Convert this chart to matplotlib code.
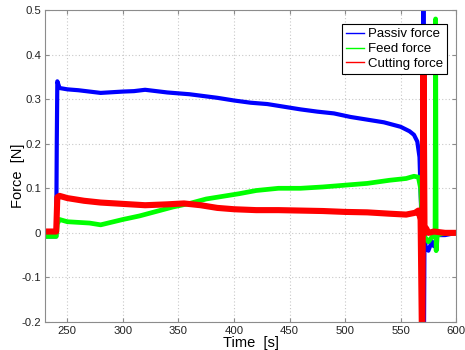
import matplotlib
matplotlib.use("Agg")
import matplotlib.pyplot as plt

plt.rcParams['font.family'] = ['Liberation Sans', 'DejaVu Sans']

# Passive force (blue)
t_passiv = [230, 240, 240.5, 241, 243, 250, 260, 280, 300, 310, 320, 340, 360, 385, 400,
            415, 430, 445, 460, 475, 490, 505, 520, 535, 550, 558, 562, 565, 567, 568.5,
            570, 570.5, 571, 571.5, 572.5, 575, 578, 580, 583, 590, 600]
f_passiv = [-0.008, -0.008, 0.20, 0.34, 0.325, 0.322, 0.32, 0.314, 0.317, 0.318, 0.321,
            0.315, 0.311, 0.303, 0.297, 0.292, 0.289, 0.283, 0.277, 0.272, 0.268, 0.26,
            0.254, 0.248, 0.238, 0.228, 0.22, 0.205, 0.17, 0.05, -0.06, 0.6, -0.25, 0.0,
            -0.03, -0.04, -0.02, -0.03, -0.005, -0.005, 0.0]

# Feed force (green)
t_feed = [230, 240, 241, 243, 250, 270, 280, 300, 315, 330, 345, 360, 375, 390, 405, 420,
          440, 460, 480, 500, 520, 540, 555, 562, 566, 568, 570, 572, 575, 578, 581,
          581.5, 582, 583, 590, 600]
f_feed = [-0.008, -0.008, 0.02, 0.03, 0.025, 0.022, 0.018, 0.03, 0.038, 0.048, 0.058,
          0.066, 0.076, 0.082, 0.088, 0.095, 0.1, 0.1, 0.103, 0.107, 0.111, 0.118, 0.122,
          0.127, 0.125, 0.10, 0.0, -0.01, -0.02, -0.01, 0.0, 0.48, -0.04, -0.005, 0.0, 0.0]

# Cutting force (red)
t_cut = [230, 240, 241, 243, 250, 265, 280, 300, 320, 340, 355, 370, 385, 400, 420, 440,
         460, 480, 500, 520, 540, 555, 563, 566, 568, 569.5, 570.5, 571.5, 573, 575, 580,
         590, 600]
f_cut = [0.003, 0.003, 0.08, 0.083, 0.078, 0.072, 0.068, 0.065, 0.062, 0.064, 0.066,
         0.062, 0.056, 0.053, 0.051, 0.051, 0.05, 0.049, 0.047, 0.046, 0.043, 0.041,
         0.045, 0.05, 0.03, -0.3, 0.45, 0.0, 0.01, 0.0, 0.003, 0.0, 0.0]

xticks = [250, 300, 350, 400, 450, 500, 550, 600]
yticks = [-0.2, -0.1, 0, 0.1, 0.2, 0.3, 0.4, 0.5]
ytick_labels = ["-0.2", "-0.1", "0", "0.1", "0.2", "0.3", "0.4", "0.5"]

fig = plt.figure(figsize=(4.65, 3.5), dpi=100)
ax = fig.add_axes([0.097, 0.08, 0.884, 0.8914])

ax.plot(t_passiv, f_passiv, color=(0, 0, 1), lw=3.0, label="Passiv force")
ax.plot(t_feed, f_feed, color=(0, 1, 0), lw=3.4, label="Feed force")
ax.plot(t_cut, f_cut, color=(1, 0, 0), lw=4.4, label="Cutting force")

ax.set_xlim(230, 600)
ax.set_ylim(-0.2, 0.5)
ax.set_xticks(xticks)
ax.set_xticklabels([str(v) for v in xticks])
ax.set_yticks(yticks)
ax.set_yticklabels(ytick_labels)

ax.grid(True, linestyle=(0, (1, 2)), color='#c8c8c8', lw=0.8)
for s in ax.spines.values():
    s.set_color('#8c8c8c')
    s.set_linewidth(0.8)
ax.tick_params(direction='in', top=True, right=True, length=3, color='#8c8c8c',
               labelsize=8.2, labelcolor='#222222', pad=3)

ax.set_xlabel("Time  [s]", fontsize=10.5, va='top')
ax.xaxis.set_label_coords(0.5, -0.046)
ax.set_ylabel("Force  [N]", fontsize=10.5, va='center')
ax.yaxis.set_label_coords(-0.066, 0.47)

leg = ax.legend(loc='upper right', bbox_to_anchor=(0.978, 0.955), fontsize=9.5,
                frameon=True, fancybox=False, edgecolor='black', framealpha=1,
                handlelength=1.35, handletextpad=0.3, borderpad=0.3, labelspacing=0.2,
                borderaxespad=0)
leg.get_frame().set_linewidth(0.8)
for l in leg.get_lines():
    l.set_linewidth(1.0)

fig.savefig("out.png", dpi=100)
